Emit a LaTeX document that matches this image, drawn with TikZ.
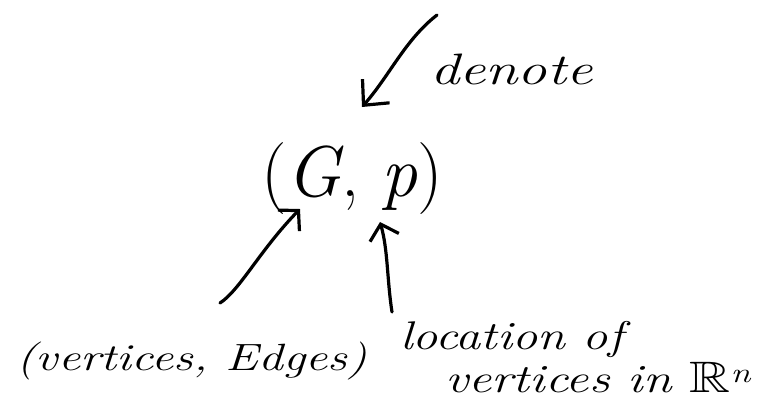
\documentclass[tikz,border=0pt]{standalone}
\usepackage{fontspec}
\usepackage{amssymb}
\usetikzlibrary{arrows.meta}
\begin{document}
\begin{tikzpicture}[x=1pt,y=-1pt,
  pen/.style={line width=3.2pt,line cap=round,line join=round},
  arr/.style={pen,-{Straight Barb[length=14pt,width=30pt,line width=3.2pt]}},
  bigarr/.style={pen,-{Straight Barb[length=19pt,width=36pt,line width=3.2pt]}},
  hand/.style={inner sep=0pt,anchor=base west}]
\useasboundingbox (0,0) rectangle (770,408);
% texts
\node[hand,font=\fontsize{44}{48}\selectfont\itshape] (denote) at (430,84) {\scalebox{1.33}[1]{denote}};
\node[hand,anchor=base,font=\fontsize{72}{78}\selectfont] (gp) at (352,196) {(\textit{G}, \textit{p})};
\node[hand,font=\fontsize{38}{42}\selectfont\itshape] (ve) at (16,370) {\scalebox{1.3}[1]{(vertices, Edges)}};
\node[hand,font=\fontsize{40}{44}\selectfont\itshape] (loc) at (400,349) {\scalebox{1.26}[1]{location of}};
\node[hand,font=\fontsize{40}{44}\selectfont\itshape] (vin) at (445,392) {\scalebox{1.29}[1]{vertices in \scalebox{1.1}{$\mathbb{R}$}\textsuperscript{n}}};
% connector ends
\coordinate (t0) at (437,15);
\coordinate (t1) at (362,107);
\coordinate (a0) at (220,303);
\coordinate (a1) at (300,209);
\coordinate (b0) at (392,312);
\coordinate (b1) at (380,222);
\draw[bigarr] (t0) .. controls (405,40) and (390,75) .. (t1);
\draw[arr] (a0) .. controls (240,290) and (260,250) .. (a1);
\draw[arr] (b0) .. controls (387,280) and (388,250) .. (b1);
\end{tikzpicture}
\end{document}
